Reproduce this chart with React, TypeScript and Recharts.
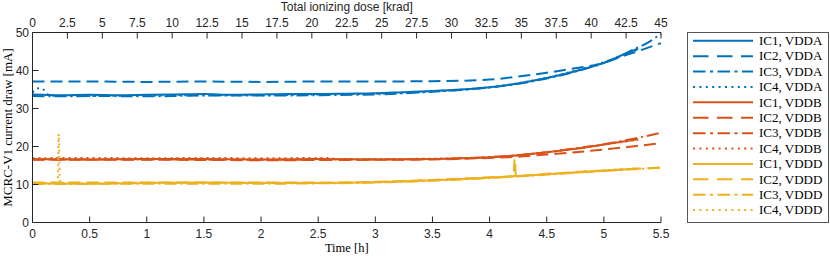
import React from 'react';
import { LineChart, Line, XAxis, YAxis, Legend, Label } from 'recharts';

// ---------- data ----------
type Pt = [number, number]; // [time h, current mA]

const timeTicks = [0, 0.5, 1, 1.5, 2, 2.5, 3, 3.5, 4, 4.5, 5, 5.5];
const doseTicks = [0, 2.5, 5, 7.5, 10, 12.5, 15, 17.5, 20, 22.5, 25, 27.5, 30, 32.5, 35, 37.5, 40, 42.5, 45];
const currentTicks = [0, 10, 20, 30, 40, 50];
const doseRange = [0, 45];

const ic1Vdda: Pt[] = [[0,33.7],[0.25,33.5],[0.5,33.6],[0.75,33.5],[1,33.6],[1.25,33.7],[1.5,33.8],[1.75,33.6],[2,33.7],[2.25,33.8],[2.5,33.8],[2.75,33.9],[3,34.0],[3.25,34.3],[3.5,34.6],[3.75,35.0],[4,35.6],[4.25,36.6],[4.5,38.0],[4.75,39.8],[5,42.0],[5.15,43.9],[5.3,45.8]];
const ic2Vdda: Pt[] = [[0,37.1],[0.5,37.1],[1,37.0],[1.5,37.1],[2,37.0],[2.5,37.1],[3,37.1],[3.5,37.2],[3.75,37.3],[4,37.6],[4.25,38.4],[4.5,39.4],[4.75,40.6],[5,42.0],[5.15,43.6],[5.25,44.6],[5.5,47.2]];
const ic3Vdda: Pt[] = [[0,33.3],[0.25,33.2],[0.5,33.3],[1,33.2],[1.5,33.4],[2,33.4],[2.5,33.5],[3,33.7],[3.25,34.0],[3.5,34.4],[3.75,34.9],[4,35.5],[4.25,36.5],[4.5,37.9],[4.75,39.7],[5,42.0],[5.25,45.4],[5.4,47.6],[5.5,49.7]];
const ic4Vdda: Pt[] = [[0,34.2],[0.05,35.3],[0.1,34.9],[0.15,33.4],[0.5,33.3],[1,33.4],[1.5,33.5],[2,33.5],[2.5,33.7],[3,33.9],[3.5,34.5],[4,35.6],[4.5,38.1],[5,42.2],[5.3,45.6]];

const ic1Vddb: Pt[] = [[0,16.7],[0.5,16.6],[1,16.7],[1.5,16.7],[2,16.6],[2.5,16.7],[3,16.6],[3.5,16.7],[3.75,16.9],[4,17.2],[4.25,17.7],[4.5,18.5],[4.75,19.4],[5,20.5],[5.3,21.9]];
const ic2Vddb: Pt[] = [[0,16.5],[1,16.5],[2,16.4],[3,16.5],[3.5,16.6],[4,17.0],[4.25,17.3],[4.5,17.9],[4.75,18.5],[5,19.2],[5.25,20.0],[5.5,20.9]];
const ic3Vddb: Pt[] = [[0,16.6],[1,16.6],[2,16.5],[3,16.6],[3.5,16.7],[4,17.2],[4.25,17.7],[4.5,18.5],[4.75,19.5],[5,20.6],[5.25,22.0],[5.5,23.6]];
const ic4Vddb: Pt[] = [[0,16.9],[0.5,17.0],[1,16.9],[1.5,17.0],[2,16.9],[2.6,17.0],[2.65,16.7],[3,16.7],[3.5,16.8],[4,17.2],[4.5,18.5],[5,20.5],[5.3,21.8]];

const ic1Vddd: Pt[] = [[0,10.3],[0.5,10.2],[1,10.4],[1.5,10.5],[2,10.4],[2.5,10.4],[3,10.6],[3.5,11.1],[4,11.8],[4.5,12.7],[5,13.6],[5.3,14.2]];
const ic2Vddd: Pt[] = [[0,10.5],[1,10.5],[2,10.5],[2.5,10.5],[3,10.7],[3.5,11.2],[4,11.9],[4.21,12.2],[4.22,16.8],[4.23,12.2],[4.5,12.8],[5,13.7],[5.25,14.1],[5.5,14.5]];
const ic3Vddd: Pt[] = [[0,10.1],[1,10.2],[2,10.2],[2.5,10.3],[3,10.5],[3.5,11.0],[4,11.7],[4.5,12.6],[5,13.6],[5.25,14.0],[5.5,14.4]];
const ic4Vddd: Pt[] = [[0,10.4],[0.22,10.4],[0.23,23.3],[0.24,10.4],[0.5,10.3],[1,10.5],[1.5,10.4],[2,10.5],[2.5,10.4],[3,10.6],[3.5,11.1],[4,11.8],[4.5,12.7],[5,13.7],[5.3,14.3]];

// ---------- styles ----------
const BLUE = '#0072BD';
const ORANGE = '#D95319';
const YELLOW = '#EDB120';
const AXIS = '#262626';
const SANS = '"Liberation Sans", Arial, Helvetica, sans-serif';
const SERIF = '"Liberation Serif", "Times New Roman", serif';

type Style = 'solid' | 'dashed' | 'dashdot' | 'dotted';
const plotDash: Record<Style, string | undefined> = {
  solid: undefined,
  dashed: '12 6',
  dashdot: '12 4 2 4',
  dotted: '2 4',
};
const legendDash: Record<Style, string | undefined> = {
  solid: undefined,
  dashed: '15.5 8.5',
  dashdot: '12.5 4.5 3 4.5',
  dotted: '2 4.4',
};

const series: { name: string; data: Pt[]; color: string; style: Style }[] = [
  { name: 'IC1, VDDA', data: ic1Vdda, color: BLUE, style: 'solid' },
  { name: 'IC2, VDDA', data: ic2Vdda, color: BLUE, style: 'dashed' },
  { name: 'IC3, VDDA', data: ic3Vdda, color: BLUE, style: 'dashdot' },
  { name: 'IC4, VDDA', data: ic4Vdda, color: BLUE, style: 'dotted' },
  { name: 'IC1, VDDB', data: ic1Vddb, color: ORANGE, style: 'solid' },
  { name: 'IC2, VDDB', data: ic2Vddb, color: ORANGE, style: 'dashed' },
  { name: 'IC3, VDDB', data: ic3Vddb, color: ORANGE, style: 'dashdot' },
  { name: 'IC4, VDDB', data: ic4Vddb, color: ORANGE, style: 'dotted' },
  { name: 'IC1, VDDD', data: ic1Vddd, color: YELLOW, style: 'solid' },
  { name: 'IC2, VDDD', data: ic2Vddd, color: YELLOW, style: 'dashed' },
  { name: 'IC3, VDDD', data: ic3Vddd, color: YELLOW, style: 'dashdot' },
  { name: 'IC4, VDDD', data: ic4Vddd, color: YELLOW, style: 'dotted' },
];

const fmt = (v: number) => String(v);

// ---------- ticks (inward, MATLAB style) ----------
const BottomTick = (props: any) => {
  const { x, y, payload } = props;
  return (
    <g>
      <line x1={x} x2={x} y1={y} y2={y - 6} stroke={AXIS} strokeWidth={1} />
      <text x={x} y={y + 15.5} textAnchor="middle" fontFamily={SANS} fontSize={12} fill={AXIS}>
        {fmt(payload.value)}
      </text>
    </g>
  );
};

const TopTick = (props: any) => {
  const { x, y, payload } = props;
  return (
    <g>
      <line x1={x} x2={x} y1={y} y2={y + 6} stroke={AXIS} strokeWidth={1} />
      <text x={x} y={y - 5.5} textAnchor="middle" fontFamily={SANS} fontSize={12} fill={AXIS}>
        {fmt(payload.value)}
      </text>
    </g>
  );
};

const LeftTick = (props: any) => {
  const { x, y, payload } = props;
  return (
    <g>
      <line x1={x} x2={x + 6} y1={y} y2={y} stroke={AXIS} strokeWidth={1} />
      <text x={x - 3.5} y={y + 4.3} textAnchor="end" fontFamily={SANS} fontSize={12} fill={AXIS}>
        {fmt(payload.value)}
      </text>
    </g>
  );
};

// ---------- legend ----------
const LEG_W = 142;
const LEG_H = 191;
const renderLegend = () => (
  <svg width={LEG_W} height={LEG_H} style={{ display: 'block' }}>
    <rect x={0.5} y={0.5} width={LEG_W - 1} height={LEG_H - 1} fill="#fff" stroke="#555" strokeWidth={1} />
    {series.map((s, i) => {
      const cy = 8.8 + i * 15.39;
      return (
        <g key={s.name}>
          <line x1={6} x2={66} y1={cy} y2={cy} stroke={s.color} strokeWidth={2} strokeDasharray={legendDash[s.style]} />
          <text x={72} y={cy + 4.3} fontFamily={SERIF} fontSize={13} fill="#000">
            {s.name}
          </text>
        </g>
      );
    })}
  </svg>
);

export default function App() {
  return (
    <div style={{ position: 'absolute', left: 0, top: 0, width: 830, height: 257, background: '#fff' }}>
      <LineChart width={830} height={257} margin={{ top: 31.5, right: 169, bottom: 33.5, left: 31.5 }}>
        <XAxis
          xAxisId="time"
          dataKey="t"
          type="number"
          orientation="bottom"
          domain={[0, 5.5]}
          ticks={timeTicks}
          interval={0}
          height={1}
          tickSize={0}
          tickMargin={0}
          tick={<BottomTick />}
          axisLine={{ stroke: AXIS, strokeWidth: 1 }}
          tickLine={false}
        >
          <Label
            content={(p: any) => {
              const vb = p.viewBox || {};
              return (
                <text x={vb.x + vb.width / 2} y={vb.y + 29.5} textAnchor="middle" fontFamily={SERIF} fontSize={12.5} fill="#000">
                  Time [h]
                </text>
              );
            }}
          />
        </XAxis>
        <XAxis
          xAxisId="dose"
          dataKey="d"
          type="number"
          orientation="top"
          domain={[0, 45]}
          ticks={doseTicks}
          interval={0}
          height={1}
          tickSize={0}
          tickMargin={0}
          tick={<TopTick />}
          axisLine={{ stroke: AXIS, strokeWidth: 1 }}
          tickLine={false}
        >
          <Label
            content={(p: any) => {
              const vb = p.viewBox || {};
              return (
                <text x={vb.x + vb.width / 2} y={vb.y + vb.height - 21.5} textAnchor="middle" fontFamily={SANS} fontSize={12} fill={AXIS}>
                  Total ionizing dose [krad]
                </text>
              );
            }}
          />
        </XAxis>
        <YAxis
          yAxisId="cur"
          type="number"
          domain={[0, 50]}
          ticks={currentTicks}
          interval={0}
          width={1}
          tickSize={0}
          tickMargin={0}
          tick={<LeftTick />}
          axisLine={{ stroke: AXIS, strokeWidth: 1 }}
          tickLine={false}
        >
          <Label
            content={(p: any) => {
              const vb = p.viewBox || {};
              const cx = vb.x + vb.width - 21;
              const cy = vb.y + vb.height / 2;
              return (
                <text x={cx} y={cy} transform={`rotate(-90, ${cx}, ${cy})`} textAnchor="middle" fontFamily={SERIF} fontSize={13} fill="#000">
                  MCRC-V1 current draw [mA]
                </text>
              );
            }}
          />
        </YAxis>
        <Legend
          content={renderLegend}
          layout="vertical"
          align="center"
          verticalAlign="middle"
          width={LEG_W}
          wrapperStyle={{ left: 687, top: 32, width: LEG_W, height: LEG_H }}
        />
        <Line
          xAxisId="dose"
          yAxisId="cur"
          data={doseRange.map((d) => ({ d, v: 0 }))}
          dataKey="v"
          stroke="none"
          dot={false}
          activeDot={false}
          legendType="none"
          isAnimationActive={false}
        />
        {series.map((s) => (
          <Line
            key={s.name}
            name={s.name}
            xAxisId="time"
            yAxisId="cur"
            data={s.data.map(([t, v]) => ({ t, v }))}
            dataKey="v"
            type="monotone"
            stroke={s.color}
            strokeWidth={2}
            strokeDasharray={plotDash[s.style]}
            dot={false}
            activeDot={false}
            isAnimationActive={false}
          />
        ))}
      </LineChart>
    </div>
  );
}
